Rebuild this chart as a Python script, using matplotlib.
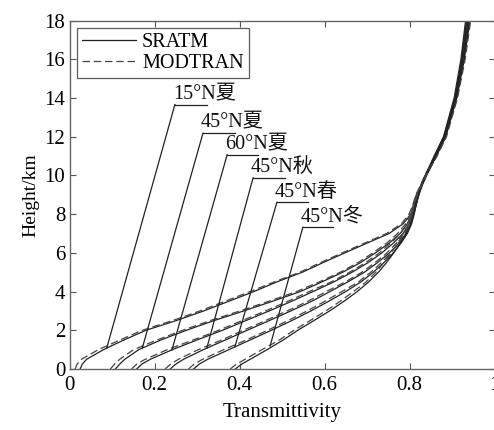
import matplotlib
matplotlib.use("Agg")
import matplotlib.pyplot as plt

# ---------------- data ----------------
heights = [0, 0.25, 0.5, 1, 1.5, 2, 2.5, 3, 3.5, 4, 4.5, 5, 5.5, 6, 6.5, 7, 7.5, 8, 8.5, 9, 9.5,
           10, 11, 12, 14, 16, 18]

sratm_15N_summer = [0.025, 0.030, 0.040, 0.080, 0.128, 0.180, 0.251, 0.316, 0.375, 0.434, 0.488, 0.548,
                    0.597, 0.648, 0.700, 0.752, 0.785, 0.803, 0.812, 0.819, 0.827, 0.837, 0.858,
                    0.880, 0.905, 0.921, 0.932]
sratm_45N_summer = [0.108, 0.118, 0.130, 0.163, 0.215, 0.275, 0.340, 0.410, 0.478, 0.543, 0.594, 0.643,
                    0.685, 0.720, 0.752, 0.778, 0.795, 0.806, 0.813, 0.820, 0.828, 0.838, 0.859,
                    0.881, 0.907, 0.923, 0.934]
sratm_60N_summer = [0.158, 0.170, 0.190, 0.242, 0.300, 0.360, 0.415, 0.470, 0.523, 0.573, 0.622, 0.665,
                    0.703, 0.735, 0.762, 0.785, 0.799, 0.808, 0.814, 0.820, 0.828, 0.838, 0.860,
                    0.882, 0.908, 0.924, 0.936]
sratm_45N_autumn = [0.237, 0.250, 0.268, 0.315, 0.367, 0.418, 0.470, 0.521, 0.570, 0.613, 0.655, 0.694,
                    0.725, 0.753, 0.775, 0.792, 0.803, 0.810, 0.815, 0.821, 0.829, 0.839, 0.861,
                    0.883, 0.909, 0.926, 0.938]
sratm_45N_spring = [0.292, 0.305, 0.325, 0.375, 0.425, 0.475, 0.523, 0.568, 0.610, 0.650, 0.686, 0.715,
                    0.740, 0.762, 0.780, 0.795, 0.805, 0.811, 0.816, 0.822, 0.830, 0.840, 0.862,
                    0.884, 0.910, 0.927, 0.940]
sratm_45N_winter = [0.390, 0.405, 0.425, 0.465, 0.503, 0.537, 0.575, 0.612, 0.646, 0.677, 0.704, 0.727,
                    0.746, 0.763, 0.778, 0.792, 0.803, 0.810, 0.816, 0.822, 0.830, 0.840, 0.863,
                    0.885, 0.911, 0.929, 0.942]

modtran_15N_summer = [0.013, 0.018, 0.028, 0.068, 0.119, 0.171, 0.242, 0.307, 0.366, 0.425, 0.482, 0.542,
                      0.591, 0.642, 0.694, 0.746, 0.781, 0.799, 0.808, 0.815, 0.826, 0.836, 0.860,
                      0.882, 0.907, 0.923, 0.934]
modtran_45N_summer = [0.096, 0.106, 0.118, 0.151, 0.206, 0.266, 0.331, 0.401, 0.469, 0.534, 0.588, 0.637,
                      0.679, 0.714, 0.746, 0.772, 0.791, 0.802, 0.809, 0.816, 0.827, 0.837, 0.861,
                      0.883, 0.909, 0.925, 0.936]
modtran_60N_summer = [0.146, 0.158, 0.178, 0.230, 0.291, 0.351, 0.406, 0.461, 0.514, 0.564, 0.616, 0.659,
                      0.697, 0.729, 0.756, 0.779, 0.795, 0.804, 0.810, 0.816, 0.827, 0.837, 0.862,
                      0.884, 0.910, 0.926, 0.938]
modtran_45N_autumn = [0.225, 0.238, 0.256, 0.303, 0.358, 0.409, 0.461, 0.512, 0.561, 0.604, 0.649, 0.688,
                      0.719, 0.747, 0.769, 0.786, 0.799, 0.806, 0.811, 0.817, 0.828, 0.838, 0.863,
                      0.885, 0.911, 0.928, 0.940]
modtran_45N_spring = [0.280, 0.293, 0.313, 0.363, 0.416, 0.466, 0.514, 0.559, 0.601, 0.641, 0.680, 0.709,
                      0.734, 0.756, 0.774, 0.789, 0.801, 0.807, 0.812, 0.818, 0.829, 0.839, 0.864,
                      0.886, 0.912, 0.929, 0.942]
modtran_45N_winter = [0.378, 0.393, 0.413, 0.453, 0.494, 0.528, 0.566, 0.603, 0.637, 0.668, 0.698, 0.721,
                      0.740, 0.757, 0.772, 0.786, 0.799, 0.806, 0.812, 0.818, 0.829, 0.839, 0.865,
                      0.887, 0.913, 0.931, 0.944]

sratm_series = [sratm_15N_summer, sratm_45N_summer, sratm_60N_summer,
                sratm_45N_autumn, sratm_45N_spring, sratm_45N_winter]
modtran_series = [modtran_15N_summer, modtran_45N_summer, modtran_60N_summer,
                  modtran_45N_autumn, modtran_45N_spring, modtran_45N_winter]

# annotation labels: text, underline start (t, h), underline end t, leader tip (t, h)
label_texts = ["15°N夏", "45°N夏", "60°N夏", "45°N秋", "45°N春", "45°N冬"]
label_t = [0.248, 0.314, 0.371, 0.432, 0.488, 0.549]
label_h = [13.66, 12.18, 11.07, 9.88, 8.61, 7.32]
underline_end_t = [0.324, 0.390, 0.444, 0.507, 0.561, 0.620]
tip_t = [0.0875, 0.171, 0.241, 0.323, 0.389, 0.472]
tip_h = [1.07, 1.06, 0.98, 1.07, 1.14, 1.19]

xticks = [0, 0.2, 0.4, 0.6, 0.8, 1]
xtick_labels = ["0", "0.2", "0.4", "0.6", "0.8", "1"]
yticks = [0, 2, 4, 6, 8, 10, 12, 14, 16, 18]

# ---------------- figure ----------------
serif = ['Liberation Serif', 'DejaVu Serif']
mixed = ['Liberation Serif', 'Noto Sans CJK SC']
plt.rcParams['font.family'] = serif
plt.rcParams['font.size'] = 14

fig = plt.figure(figsize=(4.94, 4.30), dpi=100)
ax = fig.add_axes([69.5 / 494, 61 / 430, 425 / 494, 348.5 / 430])

for i, (s, m) in enumerate(zip(sratm_series, modtran_series)):
    ax.plot(s, heights, color='#222222', lw=0.9, ls='-', solid_joinstyle='round',
            label='SRATM' if i == 0 else None)
    ax.plot(m, heights, color='#444444', lw=0.9, ls=(0, (6, 3)),
            label='MODTRAN' if i == 0 else None)

for txt, lt, lh, ue, tt, th in zip(label_texts, label_t, label_h, underline_end_t, tip_t, tip_h):
    ax.plot([lt, ue], [lh, lh], color='#222222', lw=0.9)
    ax.plot([lt, tt], [lh, th], color='#222222', lw=0.9)
    ax.text(lt - 0.005, lh + 0.02, txt, family=mixed, fontsize=14.5,
            ha='left', va='bottom', color='#111111')

ax.set_xlim(0, 1)
ax.set_ylim(0, 18)
ax.set_xticks(xticks)
ax.set_xticklabels(xtick_labels)
ax.set_yticks(yticks)
ax.tick_params(direction='in', top=True, right=True, length=4, width=0.8,
               color='#555555', labelsize=15)
ax.tick_params(axis='x', pad=5)
ax.tick_params(axis='y', pad=3)
for sp in ax.spines.values():
    sp.set_color('#666666')
    sp.set_linewidth(1.0)

ax.set_xlabel('Transmittivity', fontsize=15, labelpad=6)
ax.set_ylabel('Height/km', fontsize=14, labelpad=4)

leg = ax.legend(loc='upper left', fontsize=14.5, frameon=True, fancybox=False,
                edgecolor='#333333', handlelength=2.7, handletextpad=0.3,
                borderpad=0.25, labelspacing=0.1, borderaxespad=0.35)
leg.get_frame().set_linewidth(0.9)

fig.savefig('out.png', dpi=100)
